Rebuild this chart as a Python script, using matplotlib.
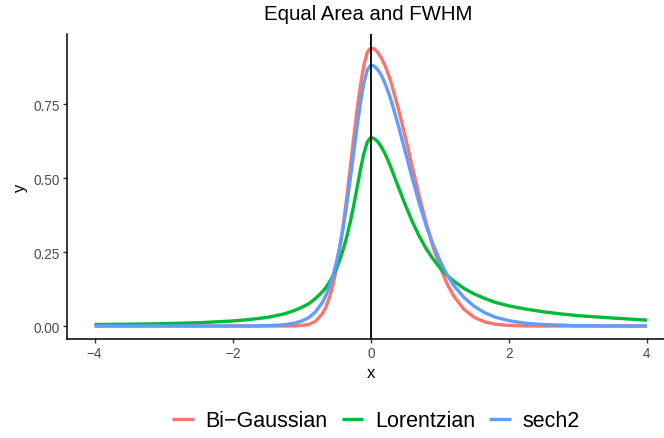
import matplotlib
matplotlib.use("Agg")
import matplotlib.pyplot as plt

plt.rcParams['font.family'] = ['Liberation Sans', 'DejaVu Sans']

# ---- data ----
x_vals = [-4, -3.5, -3, -2.5, -2, -1.75, -1.5, -1.25, -1.1, -1, -0.9, -0.8, -0.7, -0.65,
          -0.6, -0.55, -0.5, -0.45, -0.4, -0.35, -0.3, -0.25, -0.2, -0.15, -0.1, -0.05, 0,
          0.05, 0.1, 0.15, 0.2, 0.25, 0.3, 0.4, 0.5, 0.6, 0.7, 0.8, 0.9, 1.0, 1.1, 1.2,
          1.35, 1.5, 1.65, 1.8, 2.0, 2.25, 2.5, 2.75, 3, 3.5, 4]

bigauss_y = [0.000, 0.000, 0.000, 0.000, 0.000, 0.000, 0.000, 0.000, 0.000, 0.002, 0.005,
             0.016, 0.042, 0.064, 0.095, 0.137, 0.191, 0.259, 0.339, 0.431, 0.530, 0.631,
             0.728, 0.814, 0.881, 0.925, 0.939, 0.936, 0.925, 0.907, 0.883, 0.853, 0.818,
             0.734, 0.639, 0.539, 0.441, 0.350, 0.269, 0.201, 0.145, 0.102, 0.056, 0.029,
             0.014, 0.006, 0.002, 0.000, 0.000, 0.000, 0.000, 0.000, 0.000]

lorentz_y = [0.005, 0.006, 0.008, 0.011, 0.017, 0.022, 0.029, 0.041, 0.053, 0.063, 0.075,
             0.093, 0.116, 0.130, 0.148, 0.169, 0.193, 0.223, 0.258, 0.300, 0.349, 0.404,
             0.466, 0.528, 0.583, 0.622, 0.637, 0.633, 0.623, 0.606, 0.585, 0.559, 0.530,
             0.469, 0.409, 0.353, 0.304, 0.262, 0.227, 0.197, 0.172, 0.152, 0.127, 0.108,
             0.093, 0.080, 0.068, 0.057, 0.048, 0.041, 0.035, 0.027, 0.020]

sech2_y = [0.000, 0.000, 0.000, 0.000, 0.000, 0.000, 0.001, 0.004, 0.010, 0.017, 0.028,
           0.048, 0.080, 0.103, 0.132, 0.168, 0.213, 0.268, 0.333, 0.408, 0.492, 0.581,
           0.671, 0.754, 0.821, 0.866, 0.881, 0.878, 0.866, 0.848, 0.823, 0.793, 0.757,
           0.676, 0.588, 0.500, 0.416, 0.341, 0.276, 0.221, 0.175, 0.138, 0.096, 0.066,
           0.045, 0.030, 0.018, 0.009, 0.005, 0.003, 0.001, 0.000, 0.000]

series_names = ['Bi\u2212Gaussian', 'Lorentzian', 'sech2']
series_colors = ['#F8766D', '#00BA38', '#619CFF']
x_ticks = [-4, -2, 0, 2, 4]
y_ticks = [0.0, 0.25, 0.5, 0.75]
y_tick_labels = ['0.00', '0.25', '0.50', '0.75']

# ---- figure ----
W, H = 664, 439
fig = plt.figure(figsize=(W / 100, H / 100), dpi=100)
left, right, top, bottom = 67, 674.6, 35, 340
ax = fig.add_axes([left / W, 1 - bottom / H, (right - left) / W, (bottom - top) / H])

handles = []
for ys, name, col in zip([bigauss_y, lorentz_y, sech2_y], series_names, series_colors):
    h, = ax.plot(x_vals, ys, color=col, lw=2.4, label=name, solid_capstyle='butt',
                 solid_joinstyle='round', zorder=3)
    handles.append(h)

ax.axvline(0, color='black', lw=1.3, zorder=5)

ax.set_xlim(-4.4, 4.4)
ax.set_ylim(-0.0439, 0.9865)
for sp in ['top', 'right']:
    ax.spines[sp].set_visible(False)
for sp in ['left', 'bottom']:
    ax.spines[sp].set_linewidth(1.1)
    ax.spines[sp].set_color('black')

ax.set_xticks(x_ticks)
ax.set_yticks(y_ticks)
ax.set_yticklabels(y_tick_labels)
ax.tick_params(axis='both', length=2.7, width=1.0, color='#333333',
               labelcolor='#4D4D4D', labelsize=9.8, pad=2.5)

ax.set_xlabel('x', fontsize=12, color='black')
ax.set_ylabel('y', fontsize=12, color='black')
ax.xaxis.set_label_coords((371 - left) / (right - left), (bottom - 374) / (bottom - top))
ax.yaxis.set_label_coords((20 - left) / (right - left), 0.5)
ax.xaxis.label.set_va('center')
ax.yaxis.label.set_va('center')

fig.text(368 / W, 1 - 15 / H, 'Equal Area and FWHM', fontsize=14.7, ha='center',
         va='center', color='black')

leg = fig.legend(handles=handles, labels=series_names, loc='center', ncol=3,
                 bbox_to_anchor=(376 / W, 1 - 422 / H), frameon=False, fontsize=15.5,
                 handlelength=1.0, handletextpad=0.55, columnspacing=0.65,
                 borderaxespad=0, borderpad=0)
for lh in leg.get_lines():
    lh.set_linewidth(2.4)

fig.savefig('out.png', dpi=100)
